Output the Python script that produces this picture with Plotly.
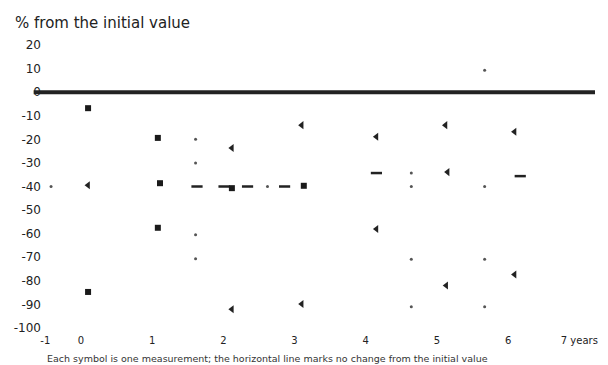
import plotly.graph_objects as go

# ---- data ----
tick_vals = [-0.5, 0, 1, 2, 3, 4, 5, 6, 7]
tick_text = ["-1", "0", "1", "2", "3", "4", "5", "6", "7 years"]
y_tick_vals = [20, 10, 0, -10, -20, -30, -40, -50, -60, -70, -80, -90, -100]
y_tick_text = ["20", "10", "0", "-10", "-20", "-30", "-40", "-50", "-60", "-70", "-80", "-90", "-100"]

large_x = [0.10, 1.08, 1.11, 2.12, 3.13, 1.08, 0.10]
large_y = [-6.8, -19.4, -38.6, -40.7, -39.7, -57.5, -84.7]

mid_x = [0.10, 2.12, 3.10, 4.15, 5.12, 6.09, 5.15, 4.15, 5.13, 6.09, 2.12, 3.10]
mid_y = [-39.5, -23.7, -14.0, -18.9, -14.0, -16.8, -33.9, -58.0, -82.0, -77.3, -92.0, -89.8]

dash_x = [1.63, 2.01, 2.34, 2.86, 4.15, 6.17]
dash_y = [-40.0, -40.0, -40.0, -40.0, -34.3, -35.6]

dot_x = [-0.42, 1.61, 1.61, 1.61, 1.61, 2.62, 4.64, 4.64, 5.67, 4.64, 5.67, 4.64, 5.67, 5.67]
dot_y = [-40.0, -20.0, -30.0, -60.4, -70.6, -40.0, -34.3, -40.0, -40.0, -70.8, -70.8, -91.0, -91.0, 9.3]

FONT = "DejaVu Sans, Verdana, sans-serif"

fig = go.Figure()
fig.add_trace(go.Scatter(x=dot_x, y=dot_y, mode="markers",
                         marker=dict(symbol="circle", size=3, color="#555555"),
                         showlegend=False, hoverinfo="skip"))
fig.add_trace(go.Scatter(x=dash_x, y=dash_y, mode="markers",
                         marker=dict(symbol="line-ew", size=8,
                                     line=dict(width=2.5, color="#222222")),
                         showlegend=False))
fig.add_trace(go.Scatter(x=mid_x, y=mid_y, mode="markers",
                         marker=dict(symbol="triangle-left", size=7, color="#222222"),
                         showlegend=False))
fig.add_trace(go.Scatter(x=large_x, y=large_y, mode="markers",
                         marker=dict(symbol="square", size=6, color="#1a1a1a"),
                         showlegend=False))

# zero reference line
fig.add_shape(type="line", xref="paper", yref="y", x0=-0.015, x1=1.0, y0=0, y1=0,
              line=dict(color="#222222", width=4), layer="below")

fig.add_annotation(text="Each symbol is one measurement; the horizontal line marks no change from the initial value",
                   xref="paper", yref="paper", x=0.005, y=0, xanchor="left", yanchor="middle",
                   yshift=-25, showarrow=False,
                   font=dict(size=9.5, color="#333333", family=FONT))

fig.update_layout(
    width=608, height=365,
    margin=dict(l=42, r=10, t=40, b=32),
    paper_bgcolor="white", plot_bgcolor="white",
    font=dict(family=FONT, size=12, color="#222222"),
    title=dict(text="% from the initial value", xref="container", yref="container",
               x=15 / 608, xanchor="left", y=1 - 23 / 365, yanchor="middle",
               font=dict(size=15, color="#222222", family=FONT)),
    xaxis=dict(range=[-0.547, 7.22], tickvals=tick_vals, ticktext=tick_text,
               showgrid=False, zeroline=False, showline=False, ticks="",
               tickfont=dict(size=10)),
    yaxis=dict(range=[-102.1, 22.1], tickvals=y_tick_vals, ticktext=y_tick_text,
               showgrid=False, zeroline=False, showline=False, ticks="",
               tickfont=dict(size=12)),
)

fig.write_html("out.html", config={"displayModeBar": False},
               post_script="document.body.style.margin='0';")
